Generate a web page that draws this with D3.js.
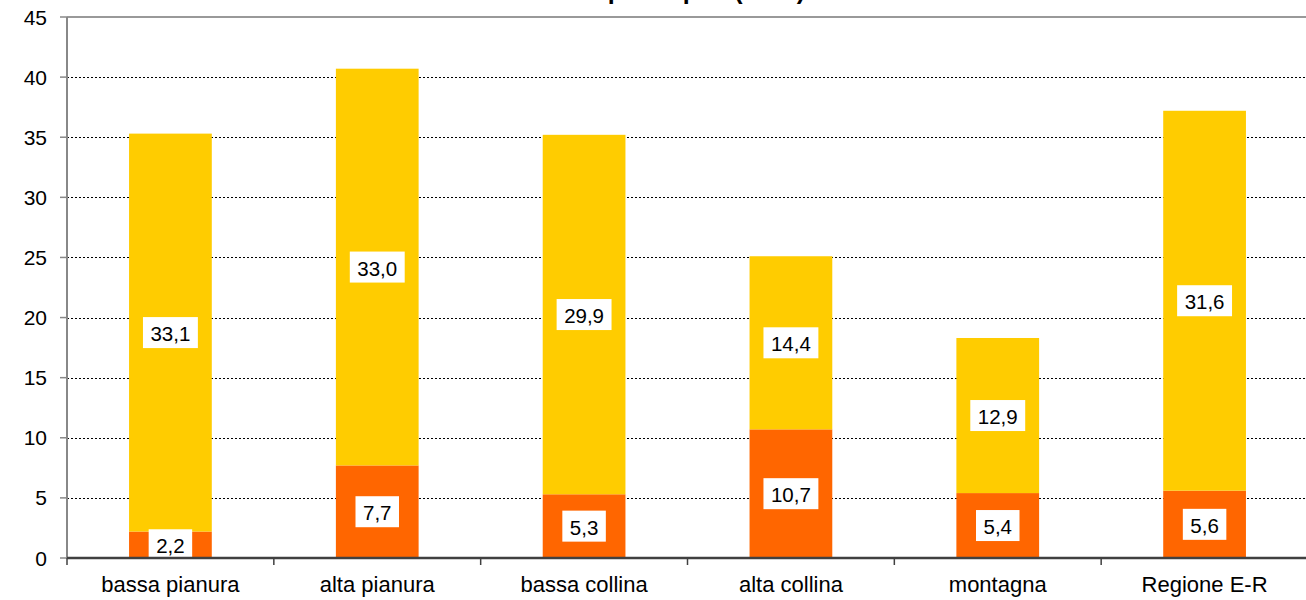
<!DOCTYPE html>
<html>
<head>
<meta charset="utf-8">
<script src="https://cdn.jsdelivr.net/npm/d3@7"></script>
<style>
  html, body { margin: 0; padding: 0; background: #fff; }
  svg { display: block; font-family: "Liberation Sans", Arial, sans-serif; }
</style>
</head>
<body>
<svg id="chart" width="1306" height="600"></svg>
<script>
// Categories and the two stacked components (values in euro)
const categories = ["bassa pianura", "alta pianura", "bassa collina", "alta collina", "montagna", "Regione E-R"];
const lowerValues = [2.2, 7.7, 5.3, 10.7, 5.4, 5.6];
const upperValues = [33.1, 33.0, 29.9, 14.4, 12.9, 31.6];
const yTicks = [0, 5, 10, 15, 20, 25, 30, 35, 40, 45];
const chartTitle = "Tributi pro capite (euro)";

const seriesColors = ["#FF6600", "#FFCC00"];

const svg = d3.select("#chart");
const plot = { left: 67, right: 1308, top: 17, bottom: 558 };

const x = d3.scaleBand()
  .domain(categories)
  .range([plot.left, plot.right])
  .paddingInner(0.6)
  .paddingOuter(0.3);

const y = d3.scaleLinear().domain([0, 45]).range([plot.bottom, plot.top]);

// Title (sits above the plot frame, mostly beyond the top edge)
svg.append("text")
  .attr("x", 805).attr("y", -1)
  .attr("text-anchor", "end")
  .attr("font-weight", "bold")
  .attr("font-size", 25)
  .text(chartTitle);

// Gridlines
svg.append("g").selectAll("line")
  .data(yTicks.filter(t => t > 0 && t < 45))
  .join("line")
  .attr("x1", plot.left).attr("x2", plot.right)
  .attr("y1", d => Math.round(y(d)) + 0.5).attr("y2", d => Math.round(y(d)) + 0.5)
  .attr("stroke", "#000").attr("stroke-width", 1)
  .attr("stroke-dasharray", "2,2");

// Top frame line
svg.append("line")
  .attr("x1", plot.left).attr("x2", plot.right)
  .attr("y1", y(45)).attr("y2", y(45))
  .attr("stroke", "#999").attr("stroke-width", 2);

// Stacked data
const rows = categories.map((c, i) => ({ cat: c, lower: lowerValues[i], upper: upperValues[i] }));
const stacked = d3.stack().keys(["lower", "upper"])(rows);

svg.append("g").selectAll("g")
  .data(stacked)
  .join("g")
  .attr("fill", (d, i) => seriesColors[i])
  .selectAll("rect")
  .data(d => d)
  .join("rect")
  .attr("x", d => x(d.data.cat))
  .attr("width", x.bandwidth())
  .attr("y", d => y(d[1]))
  .attr("height", d => y(d[0]) - y(d[1]));

// Value labels in white boxes, centred on each segment
const fmt = v => v.toFixed(1).replace(".", ",");
const labels = svg.append("g");
stacked.forEach(layer => {
  layer.forEach(d => {
    const v = d[1] - d[0];
    const cx = x(d.data.cat) + x.bandwidth() / 2;
    const cy = y((d[0] + d[1]) / 2);
    const g = labels.append("g");
    const t = g.append("text")
      .attr("x", cx).attr("y", cy + 1)
      .attr("text-anchor", "middle")
      .attr("dominant-baseline", "central")
      .attr("font-size", 20.5)
      .attr("fill", "#000")
      .text(fmt(v));
    const w = t.node().getComputedTextLength() + 15;
    g.insert("rect", "text")
      .attr("x", cx - w / 2).attr("y", cy - 15.5)
      .attr("width", w).attr("height", 31)
      .attr("fill", "#fff");
  });
});

// Y axis
svg.append("line")
  .attr("x1", plot.left).attr("x2", plot.left)
  .attr("y1", plot.top).attr("y2", plot.bottom)
  .attr("stroke", "#888").attr("stroke-width", 2);

const yAx = svg.append("g");
yAx.selectAll("line")
  .data(yTicks).join("line")
  .attr("x1", plot.left - 7).attr("x2", plot.left)
  .attr("y1", d => y(d)).attr("y2", d => y(d))
  .attr("stroke", "#888").attr("stroke-width", 1.5);
yAx.selectAll("text")
  .data(yTicks).join("text")
  .attr("x", 47).attr("y", d => y(d))
  .attr("text-anchor", "end")
  .attr("dominant-baseline", "central")
  .attr("font-size", 21)
  .text(d => d);

// X axis
svg.append("line")
  .attr("x1", plot.left).attr("x2", plot.right)
  .attr("y1", plot.bottom).attr("y2", plot.bottom)
  .attr("stroke", "#404040").attr("stroke-width", 2.5);

const gap = (x.step() - x.bandwidth()) / 2;
const boundaries = categories.map(c => x(c) - gap).concat([plot.right]);
svg.append("g").selectAll("line")
  .data(boundaries).join("line")
  .attr("x1", d => d).attr("x2", d => d)
  .attr("y1", plot.bottom).attr("y2", plot.bottom + 7)
  .attr("stroke", "#404040").attr("stroke-width", 1.5);

svg.append("g").selectAll("text")
  .data(categories).join("text")
  .attr("x", d => x(d) + x.bandwidth() / 2)
  .attr("y", 592)
  .attr("text-anchor", "middle")
  .attr("font-size", 22)
  .text(d => d);
</script>
</body>
</html>
